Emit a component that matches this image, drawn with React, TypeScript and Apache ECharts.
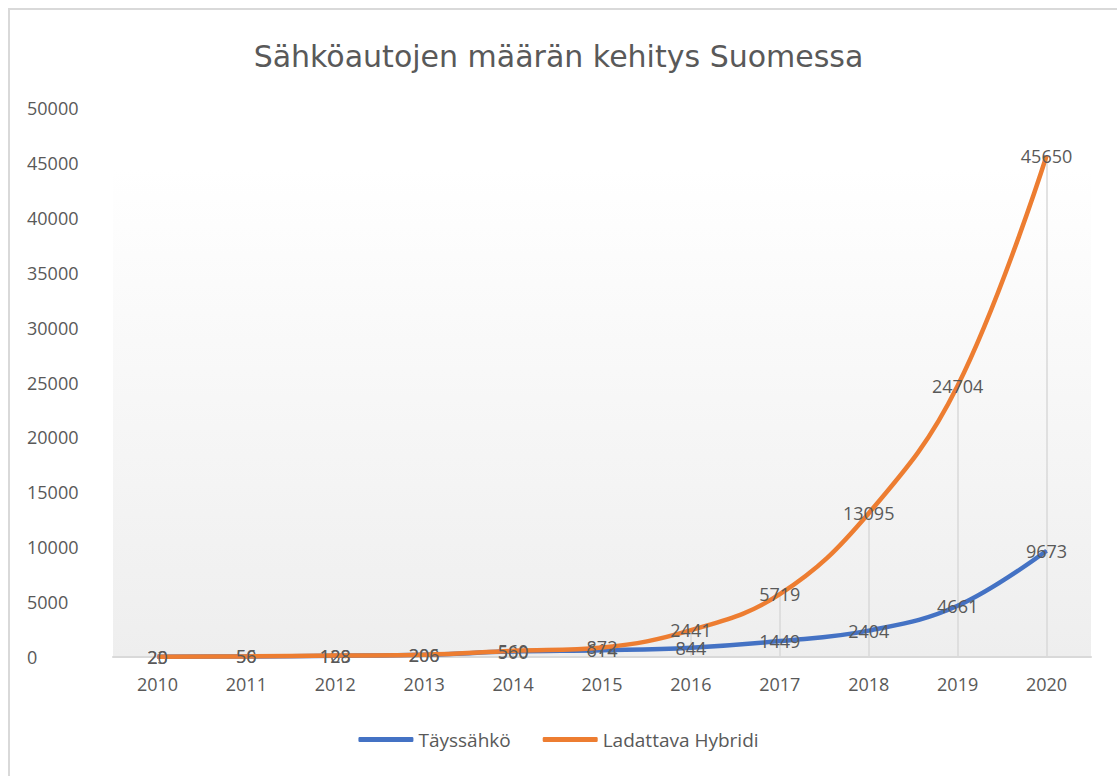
import React, { useEffect, useRef } from "react";
import * as echarts from "echarts";

const years = ["2010", "2011", "2012", "2013", "2014", "2015", "2016", "2017", "2018", "2019", "2020"];
const taysSahko = [23, 50, 109, 200, 500, 614, 844, 1449, 2404, 4661, 9673];
const hybridi = [20, 56, 128, 206, 560, 872, 2441, 5719, 13095, 24704, 45650];
const titleText = "Sähköautojen määrän kehitys Suomessa";
const seriesNames = ["Täyssähkö", "Ladattava Hybridi"];

const FONT = "'Open Sans', 'Noto Sans', sans-serif";
const GREY = "#595959";

export default function App() {
  const ref = useRef<HTMLDivElement>(null);
  useEffect(() => {
    if (!ref.current) return;
    const chart = echarts.init(ref.current, null, { renderer: "svg" });
    const label = {
      show: true,
      position: "inside",
      color: GREY,
      fontSize: 18,
      fontFamily: FONT,
    };
    const dropLines = hybridi.map((v, i) => [
      { coord: [i, Math.max(v, taysSahko[i])] },
      { coord: [i, 0] },
    ]);
    chart.setOption({
      animation: false,
      backgroundColor: "#ffffff",
      title: {
        text: titleText,
        left: "center",
        top: 36,
        textStyle: { color: GREY, fontSize: 30, fontWeight: "normal", fontFamily: "'DejaVu Sans', sans-serif" },
      },
      graphic: [
        {
          type: "rect",
          shape: { x: 9, y: 9, width: 1300, height: 1000 },
          style: { fill: "none", stroke: "#d9d9d9", lineWidth: 2 },
          silent: true,
        },
      ],
      legend: {
        bottom: 22,
        left: "center",
        itemWidth: 55,
        itemHeight: 5,
        itemGap: 32,
        icon: "roundRect",
        textStyle: { color: GREY, fontSize: 19, fontFamily: FONT },
        data: seriesNames,
      },
      grid: {
        left: 113,
        right: 26,
        top: 108,
        bottom: 119,
        show: true,
        borderWidth: 0,
        backgroundColor: {
          type: "linear",
          x: 0, y: 0, x2: 0, y2: 1,
          colorStops: [
            { offset: 0, color: "#ffffff" },
            { offset: 0.11, color: "#ffffff" },
            { offset: 1, color: "#eeeeee" },
          ],
        },
      },
      xAxis: {
        type: "category",
        data: years,
        boundaryGap: true,
        axisLine: { lineStyle: { color: "#d9d9d9", width: 2 } },
        axisTick: { show: false },
        axisLabel: { color: GREY, fontSize: 18, fontFamily: FONT, margin: 18 },
      },
      yAxis: {
        type: "value",
        min: 0,
        max: 50000,
        interval: 5000,
        splitLine: { show: false },
        axisLine: { show: false },
        axisTick: { show: false },
        axisLabel: {
          color: GREY,
          fontSize: 18,
          fontFamily: FONT,
          align: "left",
          margin: 86,
          formatter: (v: number) => String(v),
        },
      },
      series: [
        {
          name: seriesNames[0],
          type: "line",
          data: taysSahko,
          smooth: 0.4,
          symbol: "circle",
          symbolSize: 1,
          showSymbol: true,
          itemStyle: { color: "#4472C4" },
          lineStyle: { color: "#4472C4", width: 4.5 },
          label,
          z: 2,
        },
        {
          name: seriesNames[1],
          type: "line",
          data: hybridi,
          smooth: 0.4,
          symbol: "circle",
          symbolSize: 1,
          showSymbol: true,
          itemStyle: { color: "#ED7D31" },
          lineStyle: { color: "#ED7D31", width: 4.5 },
          label,
          z: 3,
          markLine: {
            silent: true,
            symbol: "none",
            label: { show: false },
            lineStyle: { color: "#d9d9d9", width: 1.5, type: "solid" },
            data: dropLines,
            z: 1,
          },
        },
      ],
    });
    return () => chart.dispose();
  }, []);
  return (
    <div
      ref={ref}
      style={{ position: "absolute", left: 0, top: 0, width: 1117, height: 776 }}
    />
  );
}
